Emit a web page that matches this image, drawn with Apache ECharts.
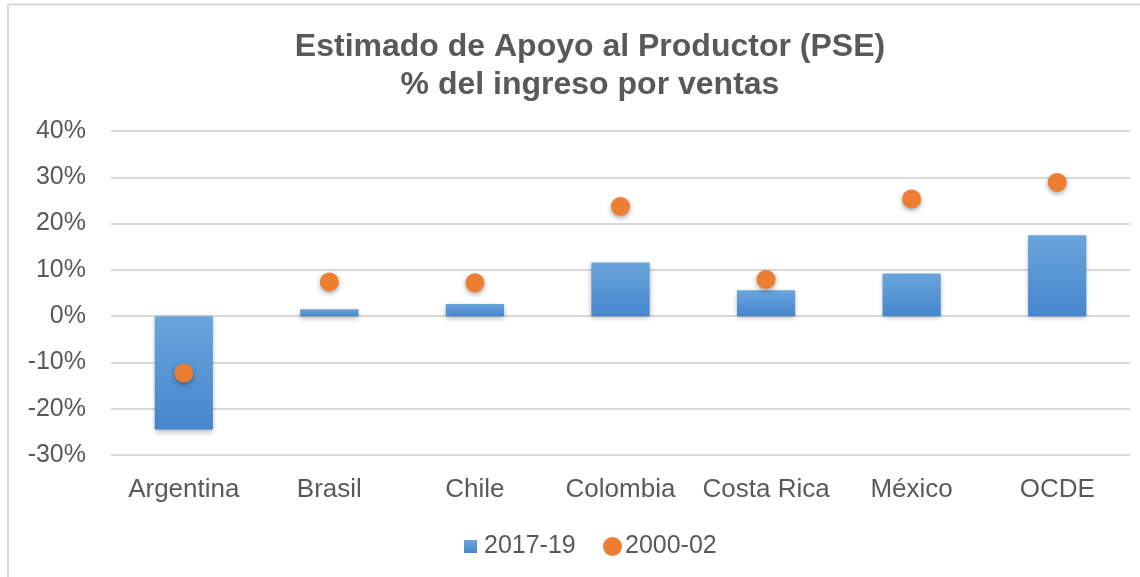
<!DOCTYPE html>
<html>
<head>
<meta charset="utf-8">
<script src="https://cdn.jsdelivr.net/npm/echarts@6/dist/echarts.min.js"></script>
<style>
html,body{margin:0;padding:0;background:#fff;}
#main{width:1140px;height:577px;}
</style>
</head>
<body>
<div id="main"></div>
<script>
const categories = ['Argentina', 'Brasil', 'Chile', 'Colombia', 'Costa Rica', 'México', 'OCDE'];
const pse2017_19 = [-24.5, 1.5, 2.6, 11.6, 5.6, 9.2, 17.5];
const pse2000_02 = [-12.3, 7.4, 7.2, 23.7, 7.9, 25.3, 28.9];
const yTicks = { min: -30, max: 40, interval: 10 };

const txt = '#595959';
const font = '"Liberation Sans", Arial, sans-serif';
const chart = echarts.init(document.getElementById('main'));
chart.setOption({
  backgroundColor: '#fff',
  animation: false,
  graphic: [{
    type: 'rect',
    shape: { x: 8, y: 4.5, width: 1300, height: 800 },
    style: { fill: 'none', stroke: '#d9d9d9', lineWidth: 2 },
    silent: true
  }],
  title: {
    text: 'Estimado de Apoyo al Productor (PSE)\n% del ingreso por ventas',
    left: 585,
    textAlign: 'center',
    top: 23,
    textStyle: { fontFamily: font, fontSize: 32, fontWeight: 'bold', color: txt, lineHeight: 38 }
  },
  legend: [{
    data: ['2017-19'],
    left: 459, top: 529,
    itemWidth: 13, itemHeight: 13,
    icon: 'rect',
    textStyle: { fontFamily: font, fontSize: 25, color: txt, padding: [0, 0, 0, 2] }
  }, {
    data: ['2000-02'],
    left: 598, top: 529,
    itemWidth: 19, itemHeight: 19,
    icon: 'circle',
    itemStyle: { opacity: 1, shadowBlur: 0, shadowOffsetY: 0 },
    textStyle: { fontFamily: font, fontSize: 25, color: txt, padding: [0, 0, 0, -2] }
  }],
  grid: { left: 111, right: 10, top: 131, bottom: 122, containLabel: false },
  xAxis: {
    type: 'category',
    data: categories,
    axisLine: { show: false, onZero: false },
    axisTick: { show: false },
    axisLabel: { interval: 0, fontFamily: font, fontSize: 26, color: txt, margin: 22 }
  },
  yAxis: {
    type: 'value',
    min: yTicks.min, max: yTicks.max, interval: yTicks.interval,
    axisLine: { show: false },
    axisTick: { show: false },
    axisLabel: { fontFamily: font, fontSize: 25, color: txt, margin: 25, formatter: v => v + '%' },
    splitLine: { lineStyle: { color: '#d9d9d9', width: 2 } }
  },
  series: [{
    name: '2017-19',
    type: 'bar',
    data: pse2017_19,
    barWidth: '40%',
    itemStyle: {
      color: new echarts.graphic.LinearGradient(0, 0, 0, 1, [
        { offset: 0, color: '#6aa5dc' },
        { offset: 1, color: '#4586cc' }
      ]),
      shadowColor: 'rgba(0,0,0,0.3)',
      shadowBlur: 5,
      shadowOffsetY: 2
    },
    z: 2
  }, {
    name: '2000-02',
    type: 'scatter',
    data: pse2000_02,
    symbol: 'circle',
    symbolSize: 19,
    itemStyle: {
      color: '#ed7d31',
      opacity: 1,
      shadowColor: 'rgba(0,0,0,0.35)',
      shadowBlur: 5,
      shadowOffsetY: 2
    },
    z: 3
  }]
});
</script>
</body>
</html>
